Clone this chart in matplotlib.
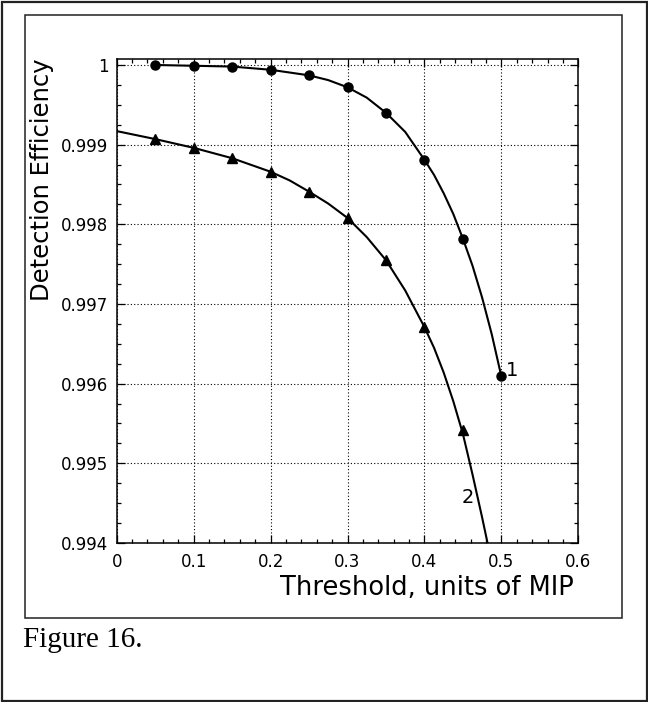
import matplotlib
matplotlib.use("Agg")
import matplotlib.pyplot as plt
from matplotlib.patches import Rectangle
from matplotlib.ticker import MultipleLocator

# measured points
threshold_1 = [0.05, 0.10, 0.15, 0.20, 0.25, 0.30, 0.35, 0.40, 0.45, 0.50]
eff_1 = [1.00000, 0.99999, 0.99998, 0.99994, 0.99987, 0.99972, 0.99940, 0.99881, 0.99782, 0.99609]

threshold_2 = [0.05, 0.10, 0.15, 0.20, 0.25, 0.30, 0.35, 0.40, 0.45]
eff_2 = [0.99907, 0.99896, 0.99883, 0.99866, 0.99841, 0.99808, 0.99755, 0.99671, 0.99542]

# fitted curves (denser where they bend)
fit_x_1 = [0.05, 0.10, 0.15, 0.20, 0.25, 0.275, 0.30, 0.325, 0.35, 0.375, 0.40, 0.4125,
           0.425, 0.4375, 0.45, 0.4625, 0.475, 0.4875, 0.50]
fit_y_1 = [1.00000, 0.99999, 0.99998, 0.99994, 0.99987, 0.99981, 0.99972, 0.99959, 0.99940,
           0.99916, 0.99881, 0.99862, 0.99839, 0.99813, 0.99782, 0.99748, 0.99708, 0.99662,
           0.99609]

fit_x_2 = [0.0, 0.05, 0.10, 0.15, 0.20, 0.225, 0.25, 0.275, 0.30, 0.325, 0.35, 0.375, 0.40,
           0.4125, 0.425, 0.4375, 0.45, 0.4625, 0.475, 0.484]
fit_y_2 = [0.99917, 0.99907, 0.99896, 0.99883, 0.99866, 0.99855, 0.99841, 0.99826, 0.99808,
           0.99784, 0.99755, 0.99717, 0.99671, 0.99645, 0.99614, 0.99578, 0.99537, 0.99486,
           0.99432, 0.99391]

xticks = [0, 0.1, 0.2, 0.3, 0.4, 0.5, 0.6]
xtick_labels = ["0", "0.1", "0.2", "0.3", "0.4", "0.5", "0.6"]
yticks = [0.994, 0.995, 0.996, 0.997, 0.998, 0.999, 1.0]
ytick_labels = ["0.994", "0.995", "0.996", "0.997", "0.998", "0.999", "1"]

curve_labels = ["1", "2"]
curve_label_pos = [(0.5135, 0.99617), (0.4566, 0.99457)]

W, H = 648, 702
fig = plt.figure(figsize=(W / 100, H / 100), dpi=100)
fig.patch.set_facecolor("white")

# axes box in pixels: left 116.7, right 578.3, top 59.4, bottom 543
ax = fig.add_axes([116.7 / W, 1 - 543 / H, (578.3 - 116.7) / W, (543 - 59.4) / H])

ax.plot(fit_x_1, fit_y_1, color="black", lw=1.5, solid_joinstyle="round")
ax.plot(fit_x_2, fit_y_2, color="black", lw=1.5, solid_joinstyle="round")
ax.plot(threshold_1, eff_1, "o", color="black", ms=6.5, ls="none")
ax.plot(threshold_2, eff_2, "^", color="black", ms=6.5, ls="none")

for lab, (lx, ly) in zip(curve_labels, curve_label_pos):
    ax.text(lx, ly, lab, ha="center", va="center", fontsize=14)

ax.set_xlim(0, 0.6)
ax.set_ylim(0.994, 1.00007)
ax.set_xticks(xticks)
ax.set_xticklabels(xtick_labels)
ax.set_yticks(yticks)
ax.set_yticklabels(ytick_labels)
ax.xaxis.set_minor_locator(MultipleLocator(0.02))
ax.yaxis.set_minor_locator(MultipleLocator(0.00025))

ax.tick_params(which="both", direction="in", top=True, right=True, width=0.9, color="black")
ax.tick_params(which="major", length=6, labelsize=12)
ax.tick_params(which="minor", length=3)
ax.tick_params(axis="x", which="major", pad=7)
ax.tick_params(axis="y", which="major", pad=6)

ax.grid(True, which="major", color="black", lw=0.8, linestyle=(0, (1, 2)))
for s in ax.spines.values():
    s.set_linewidth(1.1)

fig.text(574 / W, 1 - 595 / H, "Threshold, units of MIP", ha="right", va="baseline", fontsize=18.5)
fig.text(49 / W, 1 - 180 / H, "Detection Efficiency", rotation=90, rotation_mode="anchor",
         ha="center", va="baseline", fontsize=17.5)

fig.text(22.7 / W, 1 - 646.7 / H, "Figure 16.", ha="left", va="baseline",
         fontsize=21, family="Liberation Serif")

# frames: inner figure box and outer page border
fig.add_artist(Rectangle((25 / W, 1 - 618 / H), (622 - 25) / W, (618 - 15) / H,
                         transform=fig.transFigure, fill=False, lw=1.1, ec="#222222"))
fig.add_artist(Rectangle((1.5 / W, 1.5 / H), (W - 3) / W, (H - 3) / H,
                         transform=fig.transFigure, fill=False, lw=1.6, ec="#222222"))

fig.savefig("out.png", dpi=100)
